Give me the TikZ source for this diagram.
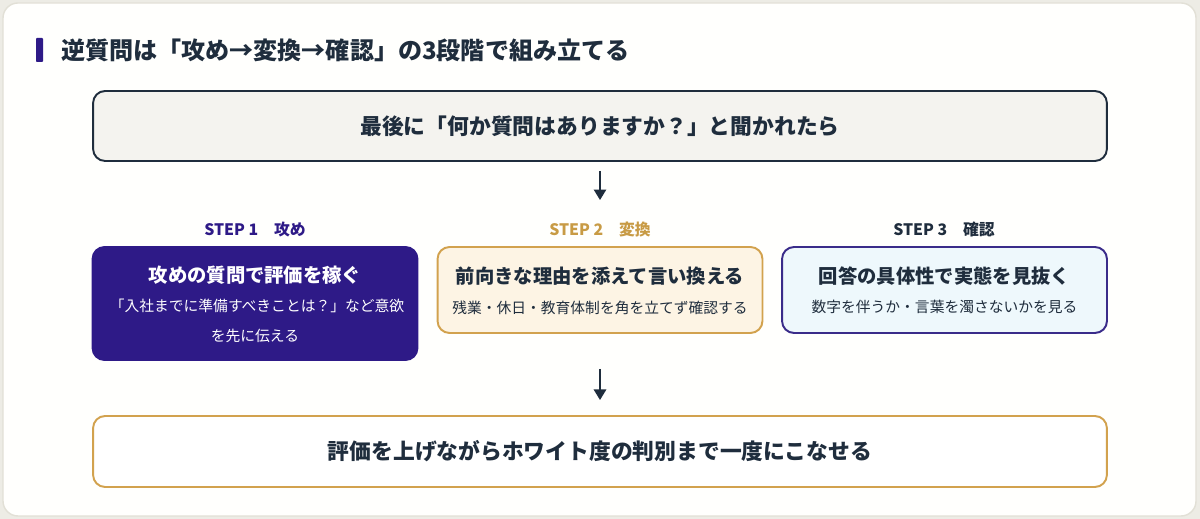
\documentclass[tikz,border=0pt]{standalone}
\usepackage{fontspec}
\setmainfont{Noto Sans CJK JP}
\usetikzlibrary{arrows.meta}
\definecolor{navy}{HTML}{1F2D3D}
\definecolor{purp}{HTML}{2E1A87}
\definecolor{purpline}{HTML}{3A2C8A}
\definecolor{gold}{HTML}{C89B45}
\definecolor{goldline}{HTML}{D2A24E}
\definecolor{creamfill}{HTML}{FDF4E4}
\definecolor{skyfill}{HTML}{EEF8FC}
\definecolor{greyfill}{HTML}{F4F3EF}
\definecolor{pagebg}{HTML}{EDECE5}
\definecolor{cardline}{HTML}{E2E0D6}
\definecolor{cardfill}{HTML}{FFFFFD}
\tikzset{
  box/.style={draw, rounded corners=2.4mm, line width=1.1pt, inner sep=0pt},
  stepbox/.style={box, minimum width=6.5cm, minimum height=1.72cm},
  ttl/.style={font=\bfseries\fontsize{11pt}{13pt}\selectfont, text=navy},
  sub/.style={font=\fontsize{8.4pt}{10pt}\selectfont, text=navy},
  lbl/.style={font=\bfseries\fontsize{9pt}{11pt}\selectfont},
  arr/.style={-{Triangle[width=7pt,length=6pt]}, line width=1.1pt, draw=navy}
}
\begin{document}
\begin{tikzpicture}[x=0.02cm, y=-0.02cm]
  %\draw[lightgray] (0, 0) grid (1200, 519);
  \fill[pagebg] (0, 0) rectangle (1200, 519);
  \draw[cardline, fill=cardfill, line width=0.8pt, rounded corners=3mm] (3, 3) rectangle (1196, 516);

  \fill[purp, rounded corners=0.5pt] (36, 38) rectangle (43, 62);
  \node[anchor=west, text=navy, font=\bfseries\fontsize{13.7pt}{16pt}\selectfont] (title) at (55, 50) {逆質問は「攻め→変換→確認」の3段階で組み立てる};

  \node[box, draw=navy, fill=greyfill, minimum width=20.28cm, minimum height=1.4cm, ttl, font=\bfseries\fontsize{12.4pt}{14pt}\selectfont] (ask) at (600, 126) {最後に「何か質問はありますか？」と聞かれたら};

  \node[lbl, text=purp] (lbl1) at (255, 229) {STEP 1　攻め};
  \node[lbl, text=gold] (lbl2) at (600, 229) {STEP 2　変換};
  \node[lbl, text=navy] (lbl3) at (944, 229) {STEP 3　確認};

  \node[stepbox, draw=purp, fill=purp, minimum height=2.26cm] (attack) at (255, 303.5) {};
  \node[stepbox, draw=goldline, fill=creamfill] (convert) at (600, 290) {};
  \node[stepbox, draw=purpline, fill=skyfill] (check) at (944.5, 290) {};

  \node[ttl, text=white] (attackt) at (255, 275) {攻めの質問で評価を稼ぐ};
  \node[sub, text=white] (attacks1) at (257, 306) {「入社までに準備すべきことは？」など意欲};
  \node[sub, text=white] (attacks2) at (255, 336) {を先に伝える};

  \node[ttl] (convertt) at (600, 276) {前向きな理由を添えて言い換える};
  \node[sub] (converts) at (600, 308) {残業・休日・教育体制を角を立てず確認する};

  \node[ttl] (checkt) at (944.5, 276) {回答の具体性で実態を見抜く};
  \node[sub] (checks) at (944.5, 307) {数字を伴うか・言葉を濁さないかを見る};

  \node[box, draw=goldline, fill=white, minimum width=20.28cm, minimum height=1.42cm, ttl, font=\bfseries\fontsize{12.4pt}{15pt}\selectfont] (result) at (600, 451.5) {評価を上げながらホワイト度の判別まで一度にこなせる};

  \draw[arr, shorten <=0.18cm, shorten >=0.92cm] (ask.south) -- (convert.north);
  \draw[arr, shorten <=0.7cm, shorten >=0.3cm] (convert.south) -- (result.north);
\end{tikzpicture}
\end{document}
